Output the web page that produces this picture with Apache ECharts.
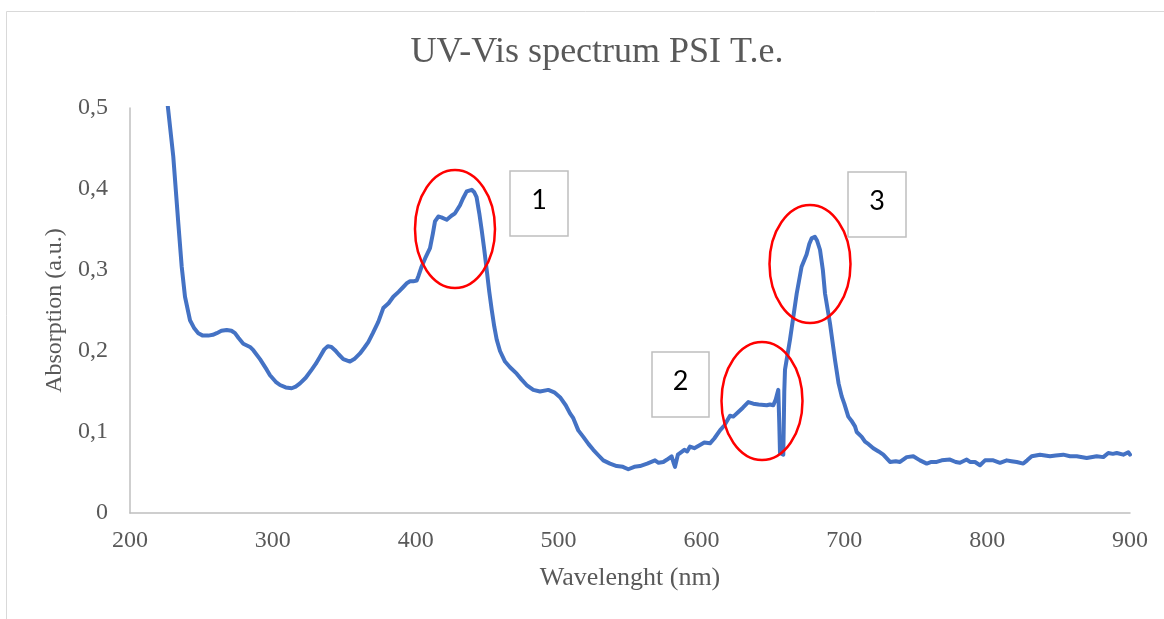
<!DOCTYPE html>
<html>
<head>
<meta charset="utf-8">
<script src="https://cdn.jsdelivr.net/npm/echarts@6/dist/echarts.min.js"></script>
<style>html,body{margin:0;padding:0;background:#fff}#c{width:1164px;height:619px}</style>
</head>
<body>
<div id="c"></div>
<script>
const titleText = 'UV-Vis spectrum PSI T.e.';
const xAxisName = 'Wavelenght (nm)';
const yAxisName = 'Absorption (a.u.)';
const xTicks = [200, 300, 400, 500, 600, 700, 800, 900];
const yTicks = ['0', '0,1', '0,2', '0,3', '0,4', '0,5'];
const annotationLabels = ['1', '2', '3'];

const wavelength = [223,226.6,230.3,233.8,236.2,238.5,242,245,247.8,251,254.8,258,260.7,264,267.7,271,273.5,276,279.3,284,286.3,291,295.7,298,302,305,309,313.2,316,319,323,327.2,330,333,336,338.5,341,343.5,346,349.3,354,357,361,364,366.8,370,373.8,377.3,381,384.3,388,391.3,394,396,398.3,400.7,402,404.1,407,410,412,413.5,415.8,418,421.7,425,427.5,431,433,435.7,439.2,441,442.6,444.5,446.2,448,449.7,451.5,453.2,455,456.7,459,462.5,466,470.7,474,477.6,482.3,487,492.8,497,501,505,508,510.3,513.8,517.3,521,524.3,528,531.3,536,540.7,545,548.8,553,557,562,567.5,570,573.3,576,579.1,580.5,581.5,582.6,583.5,585,588,590,592,595,599,602,606,609,613,616,620,622.3,626,629,632.8,636.3,640,645.7,648,650.3,652,653.8,654.5,655,657.3,658,658.5,662,666.7,670.1,673.6,675.5,677.1,679.4,681,683,685,686.5,690,693.5,696,698.2,700,702.8,705,707.5,708.7,712.2,714.5,717,720.3,724,727.3,732,736,739,743.7,748.3,753,757.7,761,764.7,768.2,774,778,781,785.7,788,791.5,795,798.5,804.3,809,813.7,817,820.7,825.3,828,831.2,837,844,848,853.3,858,862.7,869.7,876.7,881.3,884.8,888,890.7,895.3,898.8,900];
const absorbance = [0.56,0.50,0.44,0.358,0.304,0.267,0.238,0.228,0.222,0.219,0.219,0.220,0.222,0.225,0.226,0.225,0.222,0.216,0.209,0.205,0.201,0.19,0.177,0.17,0.162,0.158,0.155,0.154,0.156,0.16,0.167,0.177,0.184,0.193,0.202,0.206,0.205,0.201,0.196,0.19,0.187,0.19,0.197,0.204,0.211,0.222,0.236,0.253,0.259,0.267,0.273,0.279,0.284,0.286,0.286,0.287,0.293,0.304,0.316,0.327,0.345,0.36,0.366,0.365,0.362,0.367,0.37,0.38,0.388,0.397,0.399,0.396,0.39,0.37,0.349,0.325,0.3,0.273,0.251,0.23,0.214,0.2,0.187,0.18,0.172,0.165,0.158,0.152,0.15,0.152,0.149,0.143,0.133,0.123,0.117,0.102,0.094,0.085,0.078,0.071,0.065,0.061,0.058,0.057,0.054,0.057,0.058,0.061,0.065,0.062,0.063,0.066,0.07,0.062,0.057,0.057,0.072,0.074,0.078,0.076,0.082,0.08,0.084,0.087,0.086,0.092,0.102,0.108,0.12,0.119,0.125,0.13,0.137,0.135,0.134,0.133,0.134,0.133,0.14,0.152,0.11,0.074,0.072,0.15,0.177,0.214,0.271,0.304,0.319,0.332,0.339,0.341,0.336,0.325,0.3,0.271,0.234,0.189,0.16,0.144,0.135,0.119,0.114,0.107,0.1,0.094,0.088,0.085,0.08,0.076,0.072,0.063,0.064,0.063,0.069,0.07,0.065,0.061,0.063,0.063,0.065,0.066,0.063,0.062,0.066,0.063,0.063,0.059,0.065,0.065,0.062,0.065,0.064,0.063,0.061,0.065,0.07,0.072,0.07,0.071,0.072,0.07,0.07,0.068,0.07,0.069,0.074,0.073,0.074,0.072,0.075,0.072];

const seriesData = wavelength.map((w, i) => [w, absorbance[i]]);
const serif = '"Liberation Serif", "Times New Roman", serif';
const grey = '#595959';

const chart = echarts.init(document.getElementById('c'), null, {renderer: 'canvas'});

const boxes = [
  {x: 510, y: 171, w: 58, h: 65},
  {x: 652, y: 352, w: 57, h: 65},
  {x: 848, y: 172, w: 58, h: 65}
];
const ellipses = [
  {cx: 455, cy: 229, rx: 40, ry: 59},
  {cx: 762, cy: 401, rx: 40.5, ry: 59},
  {cx: 810, cy: 264, rx: 40.5, ry: 59}
];

const graphics = [
  {type: 'rect', shape: {x: 6.5, y: 11.5, width: 1200, height: 700}, style: {fill: 'none', stroke: '#d9d9d9', lineWidth: 1}, z: 0}
];
ellipses.forEach(e => graphics.push({
  type: 'ellipse', shape: {cx: e.cx, cy: e.cy, rx: e.rx, ry: e.ry},
  style: {fill: 'none', stroke: '#ff0000', lineWidth: 2.5}, z: 100
}));
boxes.forEach((b, i) => {
  graphics.push({
    type: 'rect', shape: {x: b.x, y: b.y, width: b.w, height: b.h},
    style: {fill: '#ffffff', stroke: '#bfbfbf', lineWidth: 1.5}, z: 100
  });
  graphics.push({
    type: 'text', x: b.x + b.w / 2, y: b.y + b.h / 2 - 3,
    style: {text: annotationLabels[i], fill: '#000000', font: '27px Lato, "Liberation Sans", sans-serif', textAlign: 'center', textVerticalAlign: 'middle'}, z: 101
  });
});

chart.setOption({
  animation: false,
  backgroundColor: '#ffffff',
  title: {
    text: titleText, left: 592, top: 30, textAlign: 'center',
    textStyle: {fontFamily: serif, fontSize: 36, fontWeight: 'normal', color: grey}
  },
  grid: {left: 130, right: 34, top: 108, bottom: 106, containLabel: false},
  xAxis: {
    type: 'value', min: 200, max: 900, interval: 100,
    name: xAxisName, nameLocation: 'middle', nameGap: 52,
    nameTextStyle: {fontFamily: serif, fontSize: 26, color: grey},
    axisLine: {show: true, lineStyle: {color: '#bfbfbf', width: 1.5}},
    axisTick: {show: false}, splitLine: {show: false},
    axisLabel: {margin: 16, fontFamily: serif, fontSize: 24, color: grey,
      formatter: v => String(xTicks[Math.round((v - 200) / 100)])}
  },
  yAxis: {
    type: 'value', min: 0, max: 0.5, interval: 0.1,
    name: yAxisName, nameLocation: 'middle', nameGap: 57, nameRotate: 90,
    nameTextStyle: {fontFamily: serif, fontSize: 24, color: grey},
    axisLine: {show: true, lineStyle: {color: '#bfbfbf', width: 1.5}},
    axisTick: {show: false}, splitLine: {show: false},
    axisLabel: {margin: 22, fontFamily: serif, fontSize: 24, color: grey,
      formatter: v => yTicks[Math.round(v * 10)]}
  },
  series: [{
    type: 'line', data: seriesData, showSymbol: false, symbol: 'none',
    clip: true, smooth: false,
    lineStyle: {color: '#4472c4', width: 4, join: 'round', cap: 'round'}
  }],
  graphic: graphics
});
</script>
</body>
</html>
